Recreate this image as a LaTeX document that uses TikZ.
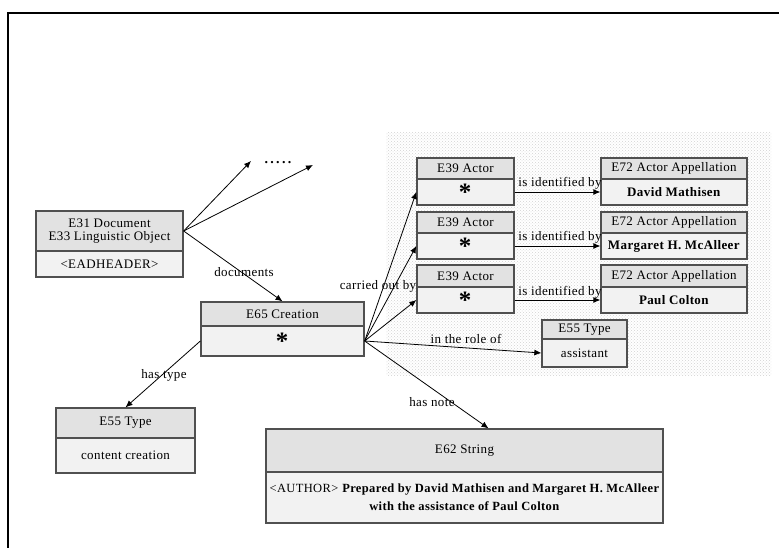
\documentclass[tikz,border=0pt]{standalone}
\usepackage{fontspec}
\setmainfont{Liberation Serif}[LetterSpace=3]
\usetikzlibrary{arrows.meta,patterns}
\definecolor{hdrgray}{HTML}{E2E2E2}
\definecolor{bodygray}{HTML}{F2F2F2}
\definecolor{edgegray}{HTML}{505050}
\tikzset{
  boxpart/.style={draw=edgegray, line width=1.3pt, inner sep=0pt, align=center,
    font=\fontsize{13}{15}\selectfont},
  hdr/.style={boxpart, fill=hdrgray},
  bdy/.style={boxpart, fill=bodygray},
  rel/.style={-{Latex[length=7pt,width=6pt]}, line width=0.8pt},
  lbl/.style={inner sep=0pt, font=\fontsize{13}{15}\selectfont}
}
\newcommand{\bigstar}{\raisebox{-6pt}{\fontsize{25}{25}\selectfont\textbf{*}}}
\begin{document}
\begin{tikzpicture}[x=1pt,y=-1pt]
\useasboundingbox (0,0) rectangle (779,548);
% frame
\draw[line width=2pt] (8,548) -- (8,13) -- (779,13);
% shaded region
\fill[pattern=crosshatch dots, pattern color=gray!35] (386,133) rectangle (771,375);

% E31
\node[hdr, minimum width=147, minimum height=40] (e31h) at (109.5,231) {E31 Document\\[-2pt]E33 Linguistic Object};
\node[bdy, minimum width=147, minimum height=26] (e31b) at (109.5,264) {<EADHEADER>};
% E65
\node[hdr, minimum width=163, minimum height=24] (e65h) at (282.5,314) {E65 Creation};
\node[bdy, minimum width=163, minimum height=30] (e65b) at (282.5,341) {\bigstar};
% Actors
\node[hdr, minimum width=97, minimum height=21] (a1h) at (465.5,168.5) {E39 Actor};
\node[bdy, minimum width=97, minimum height=26] (a1b) at (465.5,192) {\bigstar};
\node[hdr, minimum width=97, minimum height=21] (a2h) at (465.5,222.5) {E39 Actor};
\node[bdy, minimum width=97, minimum height=26] (a2b) at (465.5,246) {\bigstar};
\node[hdr, minimum width=97, minimum height=22] (a3h) at (465.5,276) {E39 Actor};
\node[bdy, minimum width=97, minimum height=26] (a3b) at (465.5,300) {\bigstar};
% Appellations
\node[hdr, minimum width=146, minimum height=21] (n1h) at (674,168.5) {E72 Actor Appellation};
\node[bdy, minimum width=146, minimum height=26] (n1b) at (674,192) {\textbf{David Mathisen}};
\node[hdr, minimum width=146, minimum height=21] (n2h) at (674,222.5) {E72 Actor Appellation};
\node[bdy, minimum width=146, minimum height=26] (n2b) at (674,246) {\textbf{Margaret H. McAlleer}};
\node[hdr, minimum width=146, minimum height=22] (n3h) at (674,276) {E72 Actor Appellation};
\node[bdy, minimum width=146, minimum height=26] (n3b) at (674,300) {\textbf{Paul Colton}};
% E55 assistant
\node[hdr, minimum width=85, minimum height=19] (t2h) at (584.5,329.5) {E55 Type};
\node[bdy, minimum width=85, minimum height=28] (t2b) at (584.5,353) {assistant};
% E55 content creation
\node[hdr, minimum width=139, minimum height=30] (t1h) at (125.5,423) {E55 Type};
\node[bdy, minimum width=139, minimum height=35] (t1b) at (125.5,455.5) {content creation};
% E62
\node[hdr, minimum width=397, minimum height=43] (e62h) at (464.5,450.5) {E62 String};
\node[bdy, minimum width=397, minimum height=51, font=\fontsize{12.5}{18}\selectfont] (e62b) at (464.5,497.5)
  {<AUTHOR> \textbf{Prepared by David Mathisen and Margaret H. McAlleer}\\\textbf{with the assistance of Paul Colton}};

% dots
\node[lbl, font=\fontsize{14}{14}\selectfont\bfseries] (dots) at (278,163) {.\,.\,.\,.\,.};
\coordinate (d1) at (251,161);
\coordinate (d2) at (313,165);
\draw[rel] (e31h.east) -- (d1);
\draw[rel] (e31h.east) -- (d2);

% connectors
\draw[rel] (e31h.east) -- (e65h.north);
\node[lbl] (ldoc) at (244,272) {documents};

\draw[rel] (e65b.east) -- (a1b.west);
\draw[rel] (e65b.east) -- (a2b.west);
\draw[rel] (e65b.east) -- (a3b.west);
\node[lbl] (lcar) at (378,286) {carried out by};

\draw[rel] (a1b.east) -- (n1b.west);
\draw[rel] (a2b.east) -- (n2b.west);
\draw[rel] (a3b.east) -- (n3b.west);
\node[lbl] (lid1) at (560,183) {is identified by};
\node[lbl] (lid2) at (560,237) {is identified by};
\node[lbl] (lid3) at (560,292) {is identified by};

\draw[rel] (e65b.east) -- (t2b.west);
\node[lbl] (lrole) at (466,339) {in the role of};

\draw[rel] (e65b.west) -- (t1h.north);
\node[lbl] (ltype) at (164,375) {has type};

\draw[rel] (e65b.east) -- ([xshift=24pt]e62h.north);
\node[lbl] (lnote) at (432,402) {has note};
\end{tikzpicture}
\end{document}
